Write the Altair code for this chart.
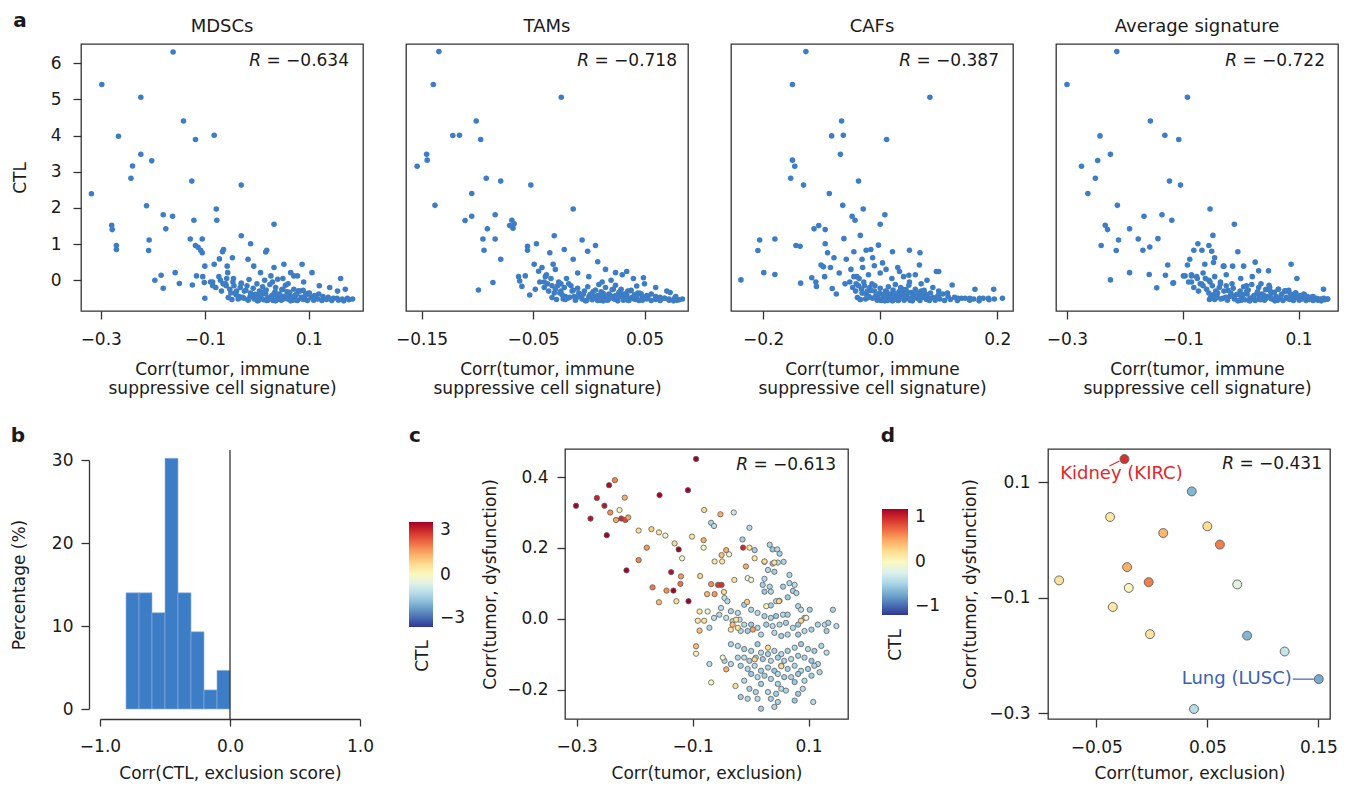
import altair as alt
import pandas as pd

FONT = "DejaVu Sans"
INK = "#1a1a1a"
FRAME = "#333333"
BLUE = "#3d7dc6"
RED_TXT = "#e3262b"
BLUE_TXT = "#3a5fb5"

# ---------------- panel a: outlying tumours (x, CTL) per signature ----------------
mdsc_pts = [
    (-0.161, 6.31), (-0.298, 5.41), (-0.223, 5.06), (-0.141, 4.40), (-0.266, 3.98), (-0.082, 4.01), (-0.118, 3.89), (-0.223, 3.48), (-0.202, 3.30), (-0.239, 3.16),
    (-0.242, 2.82), (-0.125, 2.74), (-0.030, 2.63), (-0.318, 2.39), (-0.212, 2.06), (-0.078, 1.97), (-0.180, 1.81), (-0.162, 1.77), (-0.121, 1.66), (-0.077, 1.66),
    (0.033, 1.55), (-0.279, 1.52), (-0.278, 1.40), (-0.175, 1.42), (-0.128, 1.14), (-0.105, 1.14), (-0.207, 1.11), (-0.030, 1.23), (-0.270, 0.96), (-0.270, 0.85),
    (-0.208, 0.82), (-0.118, 0.96), (-0.113, 0.91), (-0.012, 1.01), (-0.108, 0.83), (-0.105, 0.76), (-0.064, 0.85), (-0.066, 0.79), (0.017, 0.78), (0.019, 0.83),
    (-0.047, 0.62), (-0.072, 0.59), (-0.196, 0.00), (-0.184, 0.14), (-0.180, -0.22), (-0.157, 0.21), (-0.149, -0.09), (-0.124, -0.13), (-0.116, 0.12), (-0.100, -0.50),
    (0.087, 0.44), (0.052, 0.44), (0.106, 0.21), (0.161, 0.05), (-0.017, 0.58), (-0.100, 0.39), (-0.082, 0.44), (-0.057, 0.39), (-0.006, 0.39), (0.033, 0.35),
    (0.065, 0.21), (0.071, 0.12), (-0.056, 0.21), (0.007, 0.21), (0.027, 0.12), (0.040, 0.03), (0.078, 0.12), (-0.101, -0.06), (-0.089, -0.05), (-0.104, 0.10),
    (-0.085, -0.15), (-0.070, 0.00), (-0.060, -0.10), (-0.045, 0.05), (-0.030, -0.08), (-0.015, 0.02), (0.000, -0.10), (0.015, 0.00), (0.030, -0.05), (0.050, 0.05),
    (0.060, -0.10), (0.090, -0.05), (0.120, -0.15), (0.140, -0.20), (0.155, -0.30), (0.170, -0.25),
]
tam_pts = [
    (-0.1345, 6.32), (-0.1395, 5.41), (-0.0247, 5.06), (-0.101, 4.40), (-0.122, 4.00), (-0.116, 4.01), (-0.097, 3.89), (-0.1455, 3.48), (-0.145, 3.32), (-0.154, 3.15),
    (-0.092, 2.82), (-0.079, 2.74), (-0.052, 2.63), (-0.105, 2.40), (-0.138, 2.07), (-0.014, 1.97), (-0.084, 1.81), (-0.105, 1.77), (-0.111, 1.65), (-0.069, 1.66),
    (-0.067, 1.56), (-0.071, 1.51), (-0.068, 1.44), (-0.091, 1.42), (-0.095, 1.14), (-0.084, 1.14), (-0.031, 1.23), (-0.094, 0.83), (-0.079, 0.58), (-0.099, -0.27),
    (-0.086, -0.06), (-0.055, 0.94), (-0.047, 1.01), (-0.055, 0.83), (-0.035, 0.76), (-0.022, 0.85), (-0.006, 1.11), (0.006, 0.96), (-0.001, 0.80), (-0.014, 0.58),
    (0.008, 0.51), (0.034, 0.24), (0.049, 0.07), (0.073, -0.34), (-0.063, 0.10), (-0.057, 0.12), (-0.060, -0.17), (-0.053, -0.41), (-0.049, 0.44), (-0.042, 0.35),
    (-0.032, 0.44), (0.024, 0.21), (0.043, -0.16), (0.079, -0.55), (-0.045, 0.25), (-0.038, 0.15), (-0.030, 0.30), (-0.020, 0.05), (-0.010, 0.20), (0.000, 0.10),
    (0.015, 0.30), (0.020, 0.00), (0.030, 0.15), (0.040, 0.05), (0.050, -0.10), (0.060, -0.20), (0.070, -0.30), (0.078, -0.45), (-0.040, -0.05), (-0.025, -0.10),
    (0.012, -0.05), (-0.062, -0.02), (-0.048, -0.25),
]
caf_pts = [
    (-0.127, 6.32), (-0.150, 5.41), (0.085, 5.06), (-0.066, 4.40), (-0.083, 3.99), (-0.063, 4.01), (0.011, 3.89), (-0.068, 3.48), (-0.150, 3.32), (-0.146, 3.15),
    (-0.153, 2.82), (-0.037, 2.74), (-0.131, 2.63), (-0.087, 2.40), (-0.064, 2.07), (-0.029, 1.97), (0.008, 1.81), (-0.048, 1.77), (-0.043, 1.66), (0.000, 1.55),
    (-0.113, 1.42), (-0.105, 1.51), (-0.094, 1.40), (-0.062, 1.15), (-0.034, 1.24), (-0.180, 1.14), (-0.206, 1.11), (-0.209, 0.82), (-0.144, 0.96), (-0.137, 0.94),
    (-0.094, 1.01), (-0.003, 0.97), (-0.090, 0.76), (-0.079, 0.62), (-0.045, 0.79), (-0.016, 0.85), (-0.024, 0.83), (0.021, 0.79), (0.050, 0.83), (0.068, 0.76),
    (-0.199, 0.21), (-0.180, 0.16), (-0.238, 0.01), (-0.136, -0.08), (-0.117, 0.07), (-0.109, -0.17), (-0.101, 0.42), (-0.097, 0.37), (-0.082, -0.23), (-0.075, -0.38),
    (-0.058, 0.58), (-0.031, 0.58), (-0.013, 0.62), (0.004, 0.48), (0.033, 0.24), (0.049, 0.14), (0.067, 0.42), (0.096, 0.24), (0.100, 0.24), (0.123, -0.13),
    (0.162, -0.25), (0.194, -0.25), (0.209, -0.50), (0.133, -0.50), (0.153, -0.50), (0.170, -0.50), (0.185, -0.50), (-0.050, 0.30), (-0.040, 0.10), (-0.030, 0.35),
    (-0.020, 0.15), (-0.010, 0.40), (0.000, 0.20), (0.010, 0.30), (0.020, 0.05), (0.030, 0.35), (0.040, 0.10), (0.050, -0.05), (0.060, 0.15), (0.070, -0.10),
    (0.080, 0.00), (0.090, -0.20), (0.100, -0.30), (0.115, -0.35), (-0.060, -0.10), (-0.070, 0.20), (-0.085, 0.35), (-0.095, 0.10), (-0.110, -0.05),
]
avg_pts = [
    (-0.214, 6.32), (-0.300, 5.41), (-0.092, 5.06), (-0.156, 4.40), (-0.243, 3.99), (-0.131, 4.01), (-0.107, 3.89), (-0.225, 3.48), (-0.247, 3.31), (-0.275, 3.15),
    (-0.251, 2.82), (-0.123, 2.74), (-0.104, 2.63), (-0.264, 2.40), (-0.213, 2.07), (-0.053, 1.97), (-0.136, 1.81), (-0.167, 1.77), (-0.119, 1.66), (-0.011, 1.55),
    (-0.234, 1.52), (-0.230, 1.40), (-0.192, 1.42), (-0.143, 1.15), (-0.177, 1.14), (-0.211, 1.11), (-0.048, 1.24), (-0.241, 0.96), (-0.157, 0.92), (-0.215, 0.82),
    (-0.169, 0.83), (-0.074, 1.01), (-0.081, 0.83), (-0.067, 0.83), (-0.055, 0.96), (-0.050, 0.80), (-0.005, 0.79), (-0.045, 0.62), (-0.062, 0.44), (-0.088, 0.58),
    (-0.092, 0.42), (-0.126, 0.42), (-0.225, 0.01), (-0.192, 0.21), (-0.158, 0.16), (-0.145, -0.21), (-0.130, 0.14), (-0.117, -0.08), (-0.099, 0.12), (-0.029, 0.39),
    (-0.014, 0.39), (0.025, 0.50), (0.087, 0.44), (0.048, 0.26), (0.097, 0.05), (0.143, -0.25), (0.150, -0.52), (0.132, -0.52), (-0.047, 0.49), (-0.030, 0.39),
    (0.005, 0.39), (0.031, 0.26), (-0.096, 0.12), (-0.085, 0.12), (-0.116, -0.07), (-0.085, 0.15), (-0.075, 0.05), (-0.065, 0.20), (-0.055, 0.00), (-0.045, 0.10),
    (-0.035, -0.05), (-0.025, 0.15), (-0.015, -0.10), (0.000, 0.05), (0.010, -0.15), (0.020, 0.10), (0.035, -0.10), (0.050, -0.20), (0.065, -0.25), (0.080, -0.30),
    (0.095, -0.35), (0.110, -0.40), (0.125, -0.45), (-0.090, -0.05), (-0.070, -0.10),
]

# dense low-CTL cluster: CTL values (shared tumours) and x per signature
ctl_cluster = [
    -0.05, -0.20, 0.10, -0.30, -0.10, -0.15, 0.05, -0.25, -0.35, -0.05,
    -0.15, -0.40, -0.30, -0.45, -0.20, -0.10, -0.50, -0.30, -0.15, -0.55,
    -0.45, -0.35, -0.22, -0.52, -0.40, -0.57, -0.30, -0.46, -0.18, -0.54,
    -0.38, -0.27, -0.50, -0.12, -0.42, -0.56, -0.32, -0.20, -0.48, -0.38,
    -0.55, -0.26, -0.44, -0.14, -0.52, -0.34, -0.57, -0.45, -0.25, -0.50,
    -0.38, -0.56, -0.30, -0.47, -0.28, -0.53, -0.40, -0.56, -0.35, -0.48,
    -0.55, -0.42, -0.52, -0.38, -0.56, -0.45, -0.53, -0.47, -0.56, -0.50,
    -0.50, -0.55, -0.52, -0.57, -0.50, -0.54, -0.52, -0.48, -0.44, -0.50,
    -0.45, -0.50, -0.55, -0.52, -0.55, -0.53, -0.57, -0.50, -0.45, -0.42,
    -0.48, -0.35, -0.52, -0.28, -0.44, -0.56, -0.40, -0.31, -0.50, -0.46,
    -0.37, -0.54, -0.42, -0.25, -0.49, -0.33, -0.55, -0.41, -0.29, -0.51,
    -0.45, -0.36, -0.53, -0.47, -0.39, -0.56, -0.43, -0.32, -0.50, -0.38,
]
mdsc_cluster_x = [
    -0.085, -0.079, -0.073, -0.068, -0.065, -0.059, -0.058, -0.052, -0.050, -0.046,
    -0.044, -0.040, -0.039, -0.034, -0.032, -0.030, -0.025, -0.024, -0.019, -0.017,
    -0.013, -0.012, -0.007, -0.005, -0.001, 0.001, 0.005, 0.006, 0.011, 0.013,
    0.017, 0.018, 0.023, 0.025, 0.029, 0.031, 0.035, 0.036, 0.041, 0.043,
    0.047, 0.048, 0.053, 0.055, 0.059, 0.060, 0.065, 0.066, 0.071, 0.073,
    0.077, 0.078, 0.083, 0.085, 0.089, 0.090, 0.095, 0.097, 0.101, 0.104,
    0.109, 0.111, 0.117, 0.119, 0.125, 0.127, 0.134, 0.137, 0.144, 0.147,
    0.154, 0.157, 0.164, 0.167, 0.174, 0.177, 0.184, -0.031, 0.001, 0.029,
    0.061, 0.088, 0.021, 0.051, 0.076, -0.016, 0.036, 0.064, 0.112, 0.044,
    -0.055, -0.042, -0.036, -0.021, -0.010, 0.003, 0.009, 0.015, 0.021, 0.027,
    0.033, 0.039, 0.045, 0.050, 0.057, 0.063, 0.069, 0.074, 0.080, 0.086,
    0.092, 0.098, -0.048, -0.027, -0.003, 0.019, 0.038, 0.058, 0.072, 0.094,
]
tam_cluster_x = [
    -0.044, -0.040, -0.039, -0.036, -0.037, -0.033, -0.034, -0.030, -0.031, -0.027,
    -0.028, -0.024, -0.025, -0.021, -0.022, -0.018, -0.019, -0.015, -0.016, -0.012,
    -0.013, -0.009, -0.010, -0.006, -0.007, -0.003, -0.004, 0.000, -0.001, 0.003,
    0.002, 0.006, 0.005, 0.009, 0.008, 0.012, 0.011, 0.015, 0.014, 0.018,
    0.017, 0.021, 0.020, 0.024, 0.023, 0.027, 0.026, 0.030, 0.029, 0.033,
    0.032, 0.036, 0.035, 0.039, 0.038, 0.042, 0.041, 0.045, 0.044, 0.048,
    0.048, 0.052, 0.052, 0.056, 0.056, 0.060, 0.060, 0.064, 0.064, 0.068,
    0.068, 0.072, 0.072, 0.076, 0.077, 0.081, 0.084, -0.011, 0.004, 0.019,
    0.027, 0.041, 0.009, 0.023, 0.035, -0.021, 0.013, 0.031, 0.053, 0.024,
    -0.033, -0.026, -0.023, -0.014, -0.008, -0.002, 0.001, 0.004, 0.007, 0.010,
    0.013, 0.016, 0.019, 0.022, 0.025, 0.028, 0.031, 0.034, 0.037, 0.040,
    0.043, 0.046, -0.029, -0.017, -0.005, 0.008, 0.018, 0.028, 0.036, 0.047,
]
caf_cluster_x = [
    -0.052, -0.047, -0.045, -0.042, -0.041, -0.037, -0.036, -0.032, -0.031, -0.028,
    -0.027, -0.023, -0.022, -0.019, -0.018, -0.014, -0.013, -0.010, -0.009, -0.005,
    -0.004, -0.001, 0.000, 0.004, 0.005, 0.008, 0.009, 0.013, 0.014, 0.017,
    0.018, 0.022, 0.023, 0.026, 0.027, 0.031, 0.032, 0.035, 0.036, 0.040,
    0.041, 0.044, 0.046, 0.049, 0.050, 0.053, 0.055, 0.058, 0.060, 0.063,
    0.065, 0.068, 0.070, 0.073, 0.075, 0.079, 0.080, 0.084, 0.086, 0.091,
    0.094, 0.099, 0.102, 0.107, 0.110, 0.116, 0.120, 0.127, 0.132, 0.139,
    0.145, 0.153, 0.160, 0.169, 0.176, 0.186, 0.195, -0.021, 0.011, 0.039,
    0.061, 0.084, 0.001, 0.031, 0.051, -0.034, 0.021, 0.046, 0.099, 0.016,
    -0.039, -0.030, -0.025, -0.016, -0.008, 0.002, 0.006, 0.011, 0.015, 0.020,
    0.024, 0.029, 0.033, 0.038, 0.043, 0.047, 0.052, 0.056, 0.061, 0.066,
    0.071, 0.076, -0.034, -0.020, -0.003, 0.012, 0.025, 0.041, 0.054, 0.069,
]
avg_cluster_x = [
    -0.085, -0.081, -0.076, -0.073, -0.068, -0.065, -0.061, -0.059, -0.055, -0.053,
    -0.049, -0.047, -0.043, -0.041, -0.037, -0.035, -0.031, -0.029, -0.025, -0.023,
    -0.019, -0.017, -0.013, -0.011, -0.007, -0.005, -0.001, 0.001, 0.005, 0.007,
    0.011, 0.013, 0.017, 0.019, 0.023, 0.025, 0.029, 0.031, 0.035, 0.037,
    0.041, 0.043, 0.047, 0.049, 0.053, 0.055, 0.059, 0.061, 0.065, 0.067,
    0.071, 0.073, 0.077, 0.079, 0.083, 0.085, 0.089, 0.091, 0.095, 0.097,
    0.101, 0.103, 0.107, 0.109, 0.113, 0.115, 0.119, 0.121, 0.125, 0.127,
    0.131, 0.133, 0.137, 0.139, 0.143, 0.145, 0.150, -0.041, -0.011, 0.021,
    0.051, 0.079, 0.001, 0.031, 0.059, -0.054, 0.016, 0.044, 0.091, 0.034,
    -0.052, -0.040, -0.034, -0.022, -0.012, -0.002, 0.004, 0.010, 0.016, 0.022,
    0.028, 0.034, 0.040, 0.046, 0.052, 0.058, 0.064, 0.070, 0.076, 0.082,
    0.088, 0.094, -0.045, -0.026, -0.006, 0.014, 0.033, 0.052, 0.068, 0.086,
]

# ---------------- panel b: histogram ----------------
hist_edges = [-0.8, -0.7, -0.6, -0.5, -0.4, -0.3, -0.2, -0.1, 0.0]
hist_pct = [14.0, 14.0, 11.6, 30.2, 14.0, 9.3, 2.3, 4.65]

# ---------------- panel c: (exclusion, dysfunction, CTL) ----------------
c_warm = [
    (-0.301, 0.319, 3.0), (-0.276, 0.283, 2.8), (-0.265, 0.341, 2.6), (-0.252, 0.319, 2.7), (-0.248, 0.236, 3.0),
    (-0.244, 0.377, 2.9), (-0.234, 0.391, 1.6), (-0.242, 0.300, 1.5), (-0.226, 0.307, 0.1), (-0.232, 0.279, 1.3),
    (-0.223, 0.283, 2.5), (-0.217, 0.342, 1.2), (-0.216, 0.279, 2.2), (-0.211, 0.286, 1.3), (-0.214, 0.137, 3.0),
    (-0.193, 0.249, 0.6), (-0.193, 0.166, 1.6), (-0.179, 0.201, 1.4), (-0.171, 0.253, 0.8), (-0.169, 0.089, 1.7),
    (-0.158, 0.244, 0.4), (-0.157, 0.349, 3.0), (-0.158, 0.047, 1.0), (-0.147, 0.235, -0.2), (-0.145, 0.080, 1.5),
    (-0.137, 0.132, 2.8), (-0.133, 0.080, 3.0), (-0.131, 0.213, 0.6), (-0.124, 0.196, 3.0), (-0.120, 0.120, 1.4),
    (-0.121, 0.099, 1.8), (-0.128, 0.050, 0.6), (-0.118, 0.171, -0.1), (-0.108, 0.363, 3.0), (-0.107, 0.050, 3.0),
    (-0.094, 0.451, 3.0), (-0.101, 0.232, 0.4), (-0.081, 0.201, 0.0), (-0.087, 0.121, 0.7), (-0.080, 0.307, 0.6),
    (-0.081, 0.222, 1.2), (-0.052, 0.295, 1.2), (-0.062, 0.162, 0.4), (-0.049, 0.162, 0.5), (-0.050, 0.180, 1.0),
    (-0.042, 0.194, 1.2), (-0.037, 0.182, -0.1), (-0.068, 0.098, 1.5), (-0.056, 0.096, 2.3), (-0.050, 0.096, 2.4),
    (-0.075, 0.070, 1.1), (-0.062, 0.070, 1.4), (-0.046, 0.076, 0.6), (-0.028, 0.110, 0.5), (-0.013, 0.201, 2.5),
    (-0.008, 0.148, 1.2), (-0.002, 0.201, 0.5), (0.007, 0.171, 0.4), (-0.005, 0.115, -0.2), (0.001, 0.110, -0.2),
    (-0.006, 0.048, 0.8), (0.024, 0.162, 0.6), (0.041, 0.159, 0.5), (0.049, 0.050, 0.7), (0.027, 0.036, 0.1),
    (-0.088, 0.021, 0.4), (-0.091, -0.005, 0.4), (-0.080, -0.005, 0.5), (-0.088, -0.033, 1.0), (-0.074, 0.021, -0.3),
    (-0.094, -0.077, 1.0), (-0.094, -0.098, 0.1), (-0.042, -0.142, 1.2), (-0.026, -0.189, 0.5), (-0.048, -0.109, -0.2),
    (-0.068, -0.179, -0.1), (0.004, -0.030, 1.3), (-0.034, -0.030, 0.5), (-0.025, -0.002, 0.5), (0.007, -0.114, 0.7),
    (0.030, -0.081, 0.6), (0.053, -0.133, 0.6), (0.087, -0.005, 0.7), (-0.031, -0.016, 1.0), (-0.022, -0.025, 0.5),
    (0.096, 0.003, -0.2),
]
c_cool = [
    (-0.068, 0.271, -1.2), (-0.063, 0.262, -1.0), (-0.002, 0.257, -1.1), (-0.014, 0.224, -1.3), (0.033, 0.209, -1.2), (0.038, 0.196, -1.4), (0.046, 0.196, -1.1), (0.050, 0.184, -1.3), (0.057, 0.161, -1.2), (0.047, 0.159, -1.0),
    (0.007, 0.194, -1.3), (0.024, 0.161, -1.2), (0.038, 0.156, -1.4), (0.030, 0.138, -1.1), (0.041, 0.133, -1.3), (0.067, 0.124, -1.2), (0.024, 0.113, -1.1), (0.021, 0.096, -1.3), (0.033, 0.091, -1.2), (0.024, 0.077, -1.4),
    (0.035, 0.077, -1.1), (0.056, 0.091, -1.3), (0.067, 0.101, -1.2), (0.076, 0.096, -1.0), (0.073, 0.079, -1.3), (0.079, 0.073, -1.2), (0.064, 0.061, -1.4), (0.044, 0.050, -1.1), (0.035, 0.038, -1.3), (0.050, 0.051, -1.2),
    (-0.045, 0.059, -0.9), (-0.040, 0.050, -1.1), (-0.051, 0.031, -1.0), (-0.034, 0.022, -1.2), (-0.022, 0.017, -1.1), (-0.011, 0.040, -1.3), (0.001, 0.026, -1.2), (0.012, 0.017, -1.1), (0.024, 0.008, -1.3), (0.035, 0.003, -1.2),
    (0.044, 0.008, -1.4), (0.056, 0.012, -1.1), (0.064, 0.012, -1.3), (0.082, 0.036, -1.2), (0.087, 0.026, -1.0), (0.102, 0.026, -1.3), (0.093, 0.003, -1.2), (0.082, -0.016, -1.4), (0.073, -0.025, -1.1), (0.061, -0.011, -1.3),
    (0.050, -0.016, -1.2), (0.038, -0.020, -1.1), (0.027, -0.016, -1.3), (0.012, -0.025, -1.2), (0.001, -0.016, -1.4), (-0.011, -0.016, -1.1), (-0.019, -0.002, -1.0), (-0.031, -0.006, -1.2), (-0.042, 0.003, -0.9), (-0.054, 0.012, -1.1),
    (-0.063, 0.003, -1.0), (-0.071, -0.025, -1.2), (-0.017, -0.034, -1.1), (-0.005, -0.034, -1.3), (0.018, -0.044, -1.2), (0.041, -0.039, -1.1), (0.053, -0.048, -1.3), (0.064, -0.044, -1.2), (0.082, -0.044, -1.4), (0.093, -0.034, -1.1),
    (0.105, -0.030, -1.3), (0.116, -0.016, -1.2), (0.128, -0.016, -1.0), (0.134, -0.011, -1.3), (0.142, 0.026, -1.2), (0.148, -0.020, -1.1), (0.131, -0.034, -1.3), (-0.034, -0.071, -1.2), (-0.022, -0.076, -1.1), (-0.011, -0.085, -1.3),
    (0.001, -0.090, -1.2), (0.012, -0.071, -1.4), (0.018, -0.095, -1.1), (0.030, -0.099, -1.3), (0.041, -0.090, -1.2), (0.053, -0.099, -1.1), (0.064, -0.090, -1.3), (0.076, -0.081, -1.2), (0.087, -0.071, -1.4), (0.099, -0.085, -1.1),
    (0.110, -0.090, -1.3), (0.122, -0.076, -1.2), (0.131, -0.095, -1.0), (-0.022, -0.109, -1.2), (-0.011, -0.109, -1.1), (-0.002, -0.118, -1.3), (0.009, -0.109, -1.2), (0.021, -0.113, -1.4), (0.035, -0.118, -1.1), (0.047, -0.109, -1.3),
    (0.058, -0.118, -1.2), (0.070, -0.113, -1.1), (0.082, -0.104, -1.3), (0.093, -0.109, -1.2), (0.105, -0.118, -1.4), (0.116, -0.127, -1.1), (-0.071, -0.127, -1.0), (-0.045, -0.118, -1.2), (-0.034, -0.127, -1.1), (-0.017, -0.132, -1.3),
    (-0.005, -0.141, -1.2), (0.007, -0.132, -1.1), (0.018, -0.146, -1.3), (0.030, -0.137, -1.2), (0.041, -0.146, -1.4), (0.053, -0.132, -1.1), (0.064, -0.141, -1.3), (0.076, -0.132, -1.2), (0.087, -0.146, -1.1), (0.099, -0.141, -1.3),
    (0.110, -0.132, -1.2), (0.001, -0.155, -1.4), (0.012, -0.164, -1.1), (0.024, -0.160, -1.3), (0.035, -0.169, -1.2), (0.047, -0.155, -1.1), (0.058, -0.164, -1.3), (0.070, -0.164, -1.2), (0.082, -0.155, -1.4), (0.093, -0.174, -1.1),
    (0.105, -0.160, -1.3), (0.119, -0.150, -1.2), (-0.011, -0.174, -1.1), (0.018, -0.183, -1.3), (0.047, -0.183, -1.2), (0.076, -0.178, -1.4), (0.053, -0.197, -1.1), (-0.002, -0.197, -1.3), (0.009, -0.206, -1.2), (0.030, -0.206, -1.1),
    (0.044, -0.211, -1.3), (0.061, -0.202, -1.2), (0.082, -0.211, -1.4), (0.090, -0.197, -1.1), (-0.017, -0.220, -1.3), (-0.005, -0.225, -1.2), (0.012, -0.225, -1.1), (0.035, -0.225, -1.3), (0.047, -0.234, -1.2), (0.076, -0.230, -1.4),
    (0.108, -0.234, -1.1), (0.018, -0.253, -1.3), (0.041, -0.248, -1.2), (-0.029, 0.300, -0.8),
]

# ---------------- panel d: cancer types (exclusion, dysfunction, CTL) ----------------
d_pts = [
    (-0.0246, 0.140, 0.80), (0.036, 0.084, -0.55), (-0.0375, 0.0397, 0.12), (0.050, 0.0236, 0.20), (0.0103, 0.012, 0.35),
    (0.0613, -0.008, 0.55), (-0.0222, -0.047, 0.38), (-0.0834, -0.070, 0.15), (-0.0028, -0.073, 0.55), (-0.0207, -0.083, 0.02),
    (0.0769, -0.077, -0.15), (-0.0351, -0.116, 0.12), (-0.0016, -0.163, 0.15), (0.0858, -0.1655, -0.55), (0.1196, -0.193, -0.30),
    (0.1503, -0.2408, -0.60), (0.038, -0.2925, -0.35),
]
d_names = {0: "Kidney (KIRC)", 15: "Lung (LUSC)"}

R_VALUES = {"MDSCs": "−0.634", "TAMs": "−0.718", "CAFs": "−0.387", "Average signature": "−0.722",
            "c": "−0.613", "d": "−0.431"}

# ---------------- helpers ----------------
W1, H1 = 282, 267
W2, H2 = 283, 270
WB = 284


def axis(**kw):
    base = dict(grid=False, domain=False, ticks=True, tickSize=8, tickColor=FRAME, tickWidth=1.3,
                labelFont=FONT, labelFontSize=17, labelColor=INK, labelFlush=False, labelOverlap=False,
                titleFont=FONT, titleFontSize=17, titleFontWeight="normal", titleColor=INK)
    base.update(kw)
    return alt.Axis(**base)


def text_layer(txt, x, y, size=17, color=INK, **kw):
    return alt.Chart(pd.DataFrame({"t": [txt]})).mark_text(
        font=FONT, fontSize=size, color=color, **kw
    ).encode(text="t:N", x=alt.value(x), y=alt.value(y))


def r_layers(value, w, right, y):
    return [
        text_layer("R", w - right - 88, y, fontStyle="italic", align="right", baseline="middle"),
        text_layer("= " + value, w - right, y, align="right", baseline="middle"),
    ]


def top_panel(title, pts, cl_x, dom, ticks, fmt, rright, first=False):
    df = pd.DataFrame(list(pts) + list(zip(cl_x, ctl_cluster)), columns=["x", "y"])
    xax = axis(values=ticks, format=fmt, labelPadding=12,
               title=["Corr(tumor, immune", "suppressive cell signature)"],
               titleX=W1 / 2, titleY=50, titleAlign="center", titleBaseline="top", titleLineHeight=19)
    if first:
        yax = axis(values=[0, 1, 2, 3, 4, 5, 6], format="d", labelPadding=12, title="CTL",
                   titleX=-61, titleY=H1 / 2, titleAlign="center", titleBaseline="middle")
    else:
        yax = None
    dots = alt.Chart(df).mark_circle(size=31, color=BLUE, opacity=1).encode(
        x=alt.X("x:Q", scale=alt.Scale(domain=dom, nice=False, zero=False), axis=xax),
        y=alt.Y("y:Q", scale=alt.Scale(domain=[-0.85, 6.53], nice=False, zero=False), axis=yax),
    )
    layers = [dots, text_layer(title, W1 / 2, -17, size=18, align="center", baseline="middle")]
    layers += r_layers(R_VALUES[title], W1, rright, 17)
    if first:
        layers.append(text_layer("a", -61, -23, size=20, fontWeight="bold", align="center", baseline="middle"))
    return alt.layer(*layers).properties(width=W1, height=H1)


p1 = top_panel("MDSCs", mdsc_pts, mdsc_cluster_x, [-0.338, 0.204], [-0.3, -0.1, 0.1], ".1f", 14, first=True)
p2 = top_panel("TAMs", tam_pts, tam_cluster_x, [-0.164, 0.089], [-0.15, -0.05, 0.05], ".2f", 11)
p3 = top_panel("CAFs", caf_pts, caf_cluster_x, [-0.255, 0.227], [-0.2, 0.0, 0.2], ".1f", 14)
p4 = top_panel("Average signature", avg_pts, avg_cluster_x, [-0.319, 0.168], [-0.3, -0.1, 0.1], ".1f", 13)

# ---- b ----
hist_df = pd.DataFrame({"lo": hist_edges[:-1], "hi": hist_edges[1:], "pct": hist_pct})
bx = alt.Scale(domain=[-1, 1], range=[19, 279], nice=False, zero=False)
by = alt.Scale(domain=[0, 30], range=[H2 - 10, H2 - 259], nice=False, zero=False)
bars = alt.Chart(hist_df).mark_bar(color=BLUE, stroke="#8db3df", strokeWidth=0.6).encode(
    x=alt.X("lo:Q", scale=bx,
            axis=axis(values=[-1, 0, 1], format=".1f", domain=True, domainColor=FRAME, domainWidth=1.3,
                      tickSize=7, labelPadding=12, title="Corr(CTL, exclusion score)",
                      titleX=149, titleY=54, titleAlign="center", titleBaseline="middle")),
    x2="hi:Q",
    y=alt.Y("pct:Q", scale=by,
            axis=axis(values=[0, 10, 20, 30], format="d", domain=True, domainColor=FRAME, domainWidth=1.3,
                      offset=-8, labelPadding=8, title="Percentage (%)",
                      titleX=-69.5, titleY=135.5, titleAlign="center", titleBaseline="middle")),
    y2=alt.datum(0),
)
zero_line = alt.Chart(pd.DataFrame({"k": [0]})).mark_rule(color=FRAME, strokeWidth=1.3).encode(
    x=alt.datum(0), y=alt.value(1), y2=alt.value(H2)
)
pb = alt.layer(
    bars, zero_line,
    text_layer("b", -63, -13, size=20, fontWeight="bold", align="center", baseline="middle"),
).properties(width=WB, height=H2, view=alt.ViewBackground(strokeOpacity=0))

# ---- c ----
cdf = pd.DataFrame(c_cool + c_warm, columns=["x", "y", "ctl"])
cdots = alt.Chart(cdf).mark_circle(size=28, stroke="#5c5c5c", strokeWidth=0.8, opacity=1).encode(
    x=alt.X("x:Q", scale=alt.Scale(domain=[-0.32, 0.168], nice=False, zero=False),
            axis=axis(values=[-0.3, -0.1, 0.1], format=".1f", tickSize=7, labelPadding=12,
                      title="Corr(tumor, exclusion)", titleX=W2 / 2, titleY=54,
                      titleAlign="center", titleBaseline="middle")),
    y=alt.Y("y:Q", scale=alt.Scale(domain=[-0.282, 0.479], nice=False, zero=False),
            axis=axis(values=[-0.2, 0.0, 0.2, 0.4], format=".1f", labelPadding=9,
                      title="Corr(tumor, dysfunction)", titleX=-75, titleY=H2 / 2,
                      titleAlign="center", titleBaseline="middle")),
    color=alt.Color("ctl:Q",
                    scale=alt.Scale(scheme="redyellowblue", reverse=True, domain=[-3, 3], clamp=True),
                    legend=alt.Legend(orient="none", legendX=-156, legendY=73, direction="vertical",
                                      gradientLength=105, gradientThickness=24, values=[-3, 0, 3],
                                      format="d", title=None, labelFont=FONT, labelFontSize=17,
                                      labelColor=INK, labelOffset=7, padding=0, gradientStrokeWidth=0)),
)
pc = alt.layer(
    cdots,
    *r_layers(R_VALUES["c"], W2, 12, 16),
    text_layer("CTL", -142, 207, angle=270, align="center", baseline="middle"),
    text_layer("c", -150, -13, size=20, fontWeight="bold", align="center", baseline="middle"),
).properties(width=W2, height=H2)

# ---- d ----
ddf = pd.DataFrame(d_pts, columns=["x", "y", "ctl"])
ddf["name"] = [d_names.get(i, "") for i in range(len(ddf))]
dxs = alt.Scale(domain=[-0.0934, 0.1604], nice=False, zero=False)
dys = alt.Scale(domain=[-0.3098, 0.1574], nice=False, zero=False)
ddots = alt.Chart(ddf).mark_circle(size=80, stroke="#5c5c5c", strokeWidth=0.9, opacity=1).encode(
    x=alt.X("x:Q", scale=dxs,
            axis=axis(values=[-0.05, 0.05, 0.15], format=".2f", labelPadding=12,
                      title="Corr(tumor, exclusion)", titleX=W2 / 2, titleY=54,
                      titleAlign="center", titleBaseline="middle")),
    y=alt.Y("y:Q", scale=dys,
            axis=axis(values=[-0.3, -0.1, 0.1], format=".1f", tickSize=10, labelPadding=8,
                      title="Corr(tumor, dysfunction)", titleX=-78, titleY=H2 / 2,
                      titleAlign="center", titleBaseline="middle")),
    color=alt.Color("ctl:Q",
                    scale=alt.Scale(scheme="redyellowblue", reverse=True, domain=[-1, 1], clamp=True),
                    legend=alt.Legend(orient="none", legendX=-166, legendY=60, direction="vertical",
                                      gradientLength=106, gradientThickness=26, values=[-1, 0, 1],
                                      format="d", title=None, labelFont=FONT, labelFontSize=17,
                                      labelColor=INK, labelOffset=7, padding=0, gradientStrokeWidth=0)),
)
kid = ddf[ddf["name"] == "Kidney (KIRC)"]
lung = ddf[ddf["name"] == "Lung (LUSC)"]
kid_line = alt.Chart(kid).mark_rule(color=RED_TXT, strokeWidth=1.2, xOffset=-5, yOffset=2,
                                    x2Offset=-15, y2Offset=7).encode(
    x=alt.X("x:Q", scale=dxs), y=alt.Y("y:Q", scale=dys), x2="x:Q", y2="y:Q")
lung_line = alt.Chart(lung).mark_rule(color=BLUE_TXT, strokeWidth=1.2, xOffset=-5, x2Offset=-26).encode(
    x=alt.X("x:Q", scale=dxs), y=alt.Y("y:Q", scale=dys), x2="x:Q", y2="y:Q")
kid_txt = alt.Chart(kid).mark_text(font=FONT, fontSize=18, color=RED_TXT, dx=-3, dy=15,
                                   align="center", baseline="middle").encode(
    x=alt.X("x:Q", scale=dxs), y=alt.Y("y:Q", scale=dys), text="name:N")
lung_txt = alt.Chart(lung).mark_text(font=FONT, fontSize=18, color=BLUE_TXT, dx=-27,
                                     align="right", baseline="middle").encode(
    x=alt.X("x:Q", scale=dxs), y=alt.Y("y:Q", scale=dys), text="name:N")
pd_ = alt.layer(
    kid_line, lung_line, ddots, kid_txt, lung_txt,
    *r_layers(R_VALUES["d"], W2 - 1, 8, 15),
    text_layer("CTL", -152, 196, angle=270, align="center", baseline="middle"),
    text_layer("d", -160, -13, size=20, fontWeight="bold", align="center", baseline="middle"),
).properties(width=W2 - 1, height=H2)

row1 = alt.hconcat(p1, p2, p3, p4, spacing=43, bounds="flush").resolve_scale(x="independent", y="independent")
row2 = alt.hconcat(pb, pc, pd_, spacing=200, bounds="flush").resolve_scale(
    x="independent", y="independent", color="independent")

chart = alt.vconcat(row1, row2, spacing=28).resolve_scale(
    x="independent", y="independent", color="independent"
).properties(
    padding={"left": 2, "top": 2, "right": 5, "bottom": 0}
).configure_view(stroke=FRAME, strokeWidth=1.3)

chart.save("out.html", embed_options={"renderer": "svg", "actions": False})
